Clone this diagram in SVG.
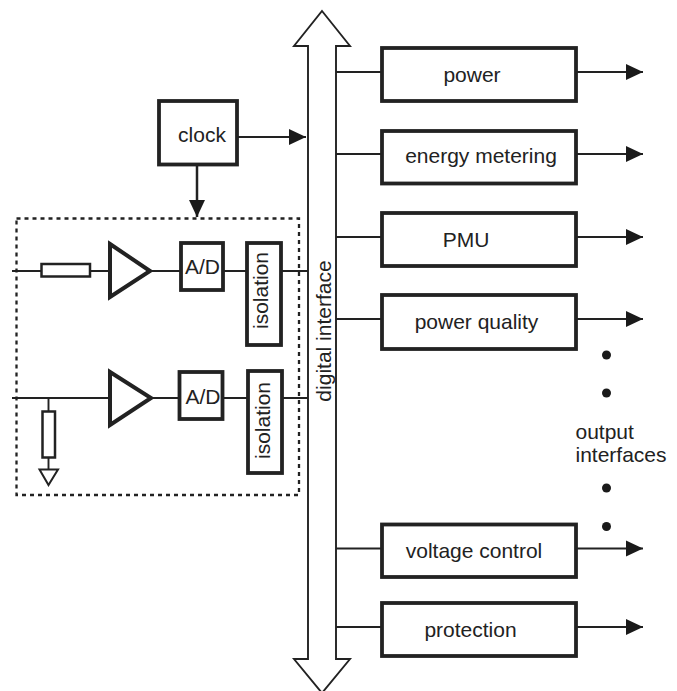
<svg xmlns="http://www.w3.org/2000/svg" width="677" height="691" viewBox="0 0 677 691">
<defs>
<style>
.b{fill:#fff;stroke:#222;stroke-width:3.8}
.l{fill:none;stroke:#222;stroke-width:1.9}
.t{font-family:"Liberation Sans",Arial,sans-serif;font-size:21px;fill:#222;text-anchor:middle}
.s{text-anchor:start}
</style>
<marker id="ah" markerUnits="userSpaceOnUse" markerWidth="18" markerHeight="17" refX="17" refY="8.500" orient="auto"><path d="M0 0.500L17 8.500L0 16.500Z" fill="#1a1a1a"/></marker>
</defs>
<rect width="677" height="691" fill="#fff"/>
<g id="connectors">
<path class="l" d="M336 72H382M336 154H382M336 237H382M336 319H382M336 548.500H382M336 627H382"/>
<path class="l" marker-end="url(#ah)" d="M576 72H643"/>
<path class="l" marker-end="url(#ah)" d="M576 154H643"/>
<path class="l" marker-end="url(#ah)" d="M576 237H643"/>
<path class="l" marker-end="url(#ah)" d="M576 319H643"/>
<path class="l" marker-end="url(#ah)" d="M576 548.500H643"/>
<path class="l" marker-end="url(#ah)" d="M576 627H643"/>
<path class="l" marker-end="url(#ah)" d="M237 137H306"/>
<path class="l" marker-end="url(#ah)" style="stroke-width:2.500" d="M197 165V217"/>
<path class="l" d="M12 271H42M90 271H110M150 271H181M223 271H247M281 271H308"/>
<path class="l" d="M12 398H110M150 398H180M222 398H248M282 398H308M48.500 398V412M48.500 457V470"/>
</g>
<g id="bus"><path d="M322 11L350 46H336V659H350L322 693L294 659H308V46H294Z" fill="#fff" stroke="#222" stroke-width="1.900"/></g>
<g id="frame"><rect x="16.500" y="218.500" width="282.500" height="276.500" fill="none" stroke="#222" stroke-width="2.300" stroke-dasharray="4 4"/></g>
<g id="clock"><rect class="b" x="159" y="101" width="78" height="63.500"/><text class="t" x="202" y="142">clock</text></g>
<g id="power"><rect class="b" x="382" y="48" width="194" height="53"/><text class="t" x="472" y="82">power</text></g>
<g id="energy"><rect class="b" x="382" y="131" width="194" height="52.500"/><text class="t" x="481" y="163">energy metering</text></g>
<g id="pmu"><rect class="b" x="382" y="213" width="194" height="53"/><text class="t" x="466" y="247">PMU</text></g>
<g id="quality"><rect class="b" x="382" y="295" width="194" height="54"/><text class="t" x="476.500" y="329">power quality</text></g>
<g id="voltage"><rect class="b" x="382" y="524.500" width="194" height="52.500"/><text class="t" x="474" y="558">voltage control</text></g>
<g id="protection"><rect class="b" x="382" y="603" width="194" height="53"/><text class="t" x="470.500" y="637">protection</text></g>
<g id="res1"><rect x="41.500" y="264" width="48.500" height="12.500" fill="#fff" stroke="#222" stroke-width="2.500"/></g>
<g id="amp1"><path d="M110 244L150 271L110 297Z" fill="#fff" stroke="#222" stroke-width="4"/></g>
<g id="ad1"><rect class="b" x="181" y="243" width="42" height="47"/><text class="t" x="202.500" y="274">A/D</text></g>
<g id="iso1"><rect class="b" x="247" y="243" width="34" height="102"/><text class="t" transform="translate(268 290.500) rotate(-90)">isolation</text></g>
<g id="amp2"><path d="M110 372L151 398L110 425Z" fill="#fff" stroke="#222" stroke-width="4"/></g>
<g id="ad2"><rect class="b" x="179.500" y="372" width="43" height="47"/><text class="t" x="203" y="404">A/D</text></g>
<g id="iso2"><rect class="b" x="248" y="371" width="34" height="102"/><text class="t" transform="translate(270 420.500) rotate(-90)">isolation</text></g>
<g id="res2"><rect x="42.500" y="411.500" width="12.500" height="46" fill="#fff" stroke="#222" stroke-width="2.500"/></g>
<g id="ground"><path d="M39.500 469.500H58L48.500 485Z" fill="#fff" stroke="#222" stroke-width="2"/></g>
<text class="t" transform="translate(331 331) rotate(-90)">digital interface</text>
<g id="dots" fill="#1a1a1a"><circle cx="606.500" cy="355" r="4.500"/><circle cx="606.500" cy="393" r="4.500"/><circle cx="606.500" cy="488" r="4.500"/><circle cx="606.500" cy="526.500" r="4.500"/></g>
<text class="t s" x="575.500" y="439">output</text>
<text class="t s" x="575.500" y="462">interfaces</text>
</svg>
